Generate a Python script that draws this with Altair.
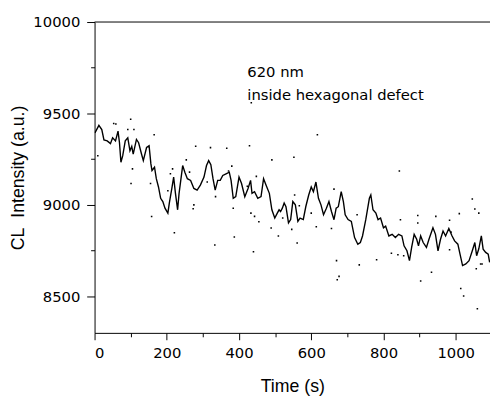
import altair as alt
import pandas as pd

# main trace (time in s, CL intensity a.u.)
time_s = [1, 12, 20, 26, 35, 44, 50, 58, 65, 69, 73, 78, 85, 92, 98, 103, 107, 116, 122, 130,
          135, 144, 151, 156, 159, 166, 171, 177, 183, 189, 195, 203, 207, 214, 219, 224, 230, 234, 244, 250,
          257, 266, 275, 284, 293, 303, 310, 316, 322, 328, 334, 341, 348, 355, 364, 373, 378, 384, 391, 400,
          407, 416, 425, 432, 436, 443, 452, 461, 468, 475, 484, 491, 499, 506, 511, 515, 520, 525, 530, 537,
          543, 549, 556, 563, 569, 578, 585, 593, 600, 606, 613, 620, 627, 634, 642, 649, 656, 663, 669, 675,
          683, 689, 694, 702, 711, 720, 729, 736, 742, 751, 761, 765, 771, 779, 785, 792, 800, 806, 815, 824,
          833, 842, 851, 857, 865, 872, 878, 885, 892, 897, 903, 910, 919, 926, 937, 944, 951, 958, 965, 972,
          981, 990, 997, 1006, 1012, 1019, 1028, 1037, 1046, 1053, 1058, 1064, 1071, 1076, 1083, 1090, 1094]
intensity = [9394, 9435, 9412, 9355, 9350, 9335, 9367, 9350, 9403, 9340, 9233, 9269, 9350, 9367, 9296, 9320, 9278, 9358, 9340, 9278,
             9242, 9314, 9323, 9224, 9188, 9206, 9143, 9098, 9036, 9018, 8982, 8955, 9009, 9090, 9152, 9063, 8973, 9063, 9215, 9179,
             9143, 9134, 9090, 9081, 9108, 9152, 9215, 9242, 9220, 9143, 9081, 9134, 9134, 9161, 9170, 9179, 9134, 9036, 9045, 9152,
             9117, 9045, 9090, 9134, 9063, 9072, 9036, 9045, 9143, 9108, 9063, 8973, 8928, 8955, 8973, 8964, 8982, 9010, 8990, 8902,
             8920, 9018, 9000, 8910, 8928, 8920, 8991, 9054, 9098, 9072, 9125, 9036, 9000, 8946, 8982, 9018, 8964, 8919, 8982, 8990,
             9072, 9018, 8946, 8920, 8910, 8821, 8785, 8794, 8830, 8919, 9036, 9054, 8973, 8955, 8919, 8928, 8875, 8884, 8830, 8839,
             8821, 8839, 8830, 8776, 8749, 8695, 8767, 8839, 8812, 8776, 8830, 8794, 8767, 8812, 8875, 8839, 8749, 8812, 8857, 8830,
             8871, 8830, 8803, 8785, 8731, 8668, 8677, 8695, 8749, 8794, 8722, 8760, 8830, 8758, 8740, 8731, 8686]

# scattered outlier points
dot_time = [9, 53, 59, 92, 100, 101, 105, 109, 155, 158, 165, 203, 210, 216, 221, 254, 263, 273, 275, 280,
            312, 321, 333, 335, 366, 371, 380, 384, 387, 423, 429, 434, 433, 443, 440, 448, 455, 489, 491, 509,
            521, 546, 552, 554, 561, 567, 600, 614, 617, 656, 663, 670, 672, 677, 727, 733, 781, 822, 840, 844,
            847, 856, 895, 895, 903, 933, 945, 983, 983, 987, 1010, 1014, 1022, 1046, 1053, 1057, 1060, 1064, 1069, 1073]
dot_int = [9269, 9445, 9442, 9412, 9468, 9117, 9197, 9412, 9117, 8936, 9384, 9077, 9170, 9197, 8848, 9246, 9179, 8979, 9000, 9321,
           9125, 9313, 8781, 9045, 9310, 9185, 9212, 8982, 8824, 9102, 9323, 9559, 8955, 8937, 8744, 9156, 8908, 8873, 9246, 8830,
           8928, 8866, 9260, 9054, 8792, 8995, 8955, 8880, 9383, 8871, 9086, 8695, 8591, 8609, 8946, 8672, 8700, 8735, 8727, 9185,
           8919, 8722, 8942, 8901, 8584, 8631, 8937, 8916, 8755, 8851, 8952, 8543, 8502, 9032, 8977, 8651, 8432, 8955, 8677, 8677]

x_major = [0, 200, 400, 600, 800, 1000]
x_minor = [100, 300, 500, 700, 900]
y_major = [8500, 9000, 9500, 10000]
y_minor = [8750, 9250, 9750]

note_text = ["620 nm", "inside hexagonal defect"]
note_t = [423, 423]
note_v = [9699, 9574]

FONT = "DejaVu Sans"
TFONT = "Liberation Sans"

line_df = pd.DataFrame({"t": time_s, "v": intensity})
dot_df = pd.DataFrame({"t": dot_time, "v": dot_int})
note_df = pd.DataFrame({"t": note_t, "v": note_v, "label": note_text})
frame_df = pd.DataFrame({"v": [10000]})

xs = alt.Scale(domain=[0, 1095], nice=False, zero=False)
ys = alt.Scale(domain=[8300, 10000], nice=False, zero=False)

line = alt.Chart(line_df).mark_line(color="black", strokeWidth=1.4, clip=True).encode(
    x=alt.X("t:Q", scale=xs, axis=alt.Axis(orient="bottom", values=x_major, tickSize=7, format="d",
                                           labelPadding=6, title="Time (s)", titlePadding=18)),
    y=alt.Y("v:Q", scale=ys, axis=alt.Axis(orient="left", values=y_major, tickSize=8, format="d",
                                           labelPadding=7, title="CL\u00a0 Intensity (a.u.)",
                                           titlePadding=6)),
)

dots = alt.Chart(dot_df).mark_square(size=2.5, color="black", opacity=1, clip=True).encode(
    x=alt.X("t:Q", scale=xs, axis=alt.Axis(orient="bottom", values=x_minor, tickSize=4,
                                           labels=False, domain=False, title="")),
    y=alt.Y("v:Q", scale=ys, axis=alt.Axis(orient="left", values=y_minor, tickSize=4,
                                           labels=False, domain=False, title="")),
)

frame = alt.Chart(frame_df).mark_rule(color="black", strokeWidth=1).encode(
    y=alt.Y("v:Q", scale=ys, axis=None),
)

notes = alt.Chart(note_df).mark_text(align="left", baseline="alphabetic", font=FONT,
                                     fontSize=15, color="black").encode(
    x=alt.X("t:Q", scale=xs, axis=None),
    y=alt.Y("v:Q", scale=ys, axis=None),
    text="label:N",
)

chart = alt.layer(line, dots, frame, notes).resolve_axis(
    x="independent", y="independent"
).properties(
    width=402, height=316,
    padding={"left": 88, "top": 11, "right": 0, "bottom": 66},
    autosize=alt.AutoSizeParams(type="none"),
).configure_view(stroke="transparent").configure_axis(
    domainColor="black", tickColor="black", labelColor="black", titleColor="black",
    labelFont=FONT, labelFontSize=15, titleFont=TFONT, titleFontSize=18,
    titleFontWeight="normal", grid=False, domainWidth=1, tickWidth=1,
)

chart.save("out.html", embed_options={"renderer": "svg", "actions": False})
